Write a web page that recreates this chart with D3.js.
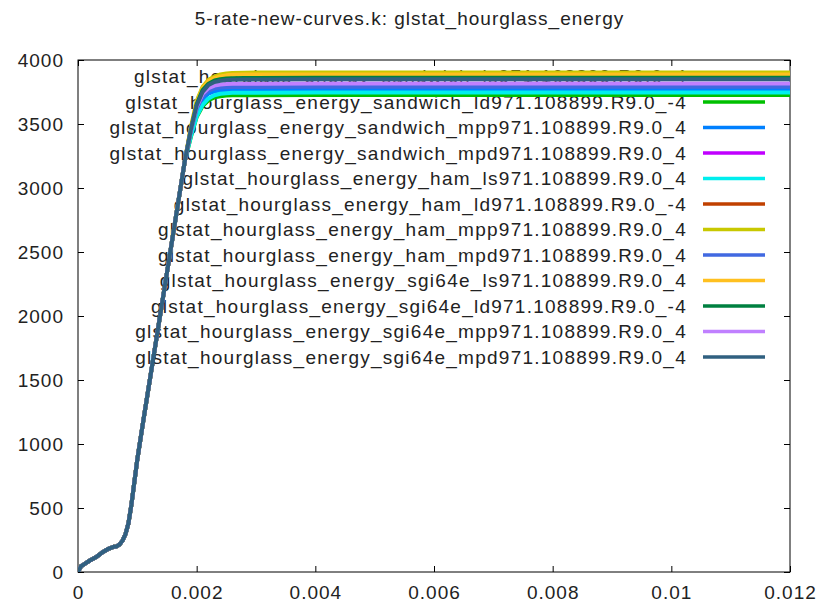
<!DOCTYPE html>
<html><head><meta charset="utf-8">
<script src="https://cdn.jsdelivr.net/npm/d3@7/dist/d3.min.js"></script>
<style>
html,body{margin:0;padding:0;background:#fff;}
text{font-family:"Liberation Sans",Arial,sans-serif;fill:#222;}
</style></head>
<body><svg id="c" width="819" height="608"></svg>
<script>
const title = "5-rate-new-curves.k: glstat_hourglass_energy";
const seriesNames = [
  "glstat_hourglass_energy_sandwich_ls971.108899.R9.0_4",
  "glstat_hourglass_energy_sandwich_ld971.108899.R9.0_-4",
  "glstat_hourglass_energy_sandwich_mpp971.108899.R9.0_4",
  "glstat_hourglass_energy_sandwich_mpd971.108899.R9.0_4",
  "glstat_hourglass_energy_ham_ls971.108899.R9.0_4",
  "glstat_hourglass_energy_ham_ld971.108899.R9.0_-4",
  "glstat_hourglass_energy_ham_mpp971.108899.R9.0_4",
  "glstat_hourglass_energy_ham_mpd971.108899.R9.0_4",
  "glstat_hourglass_energy_sgi64e_ls971.108899.R9.0_4",
  "glstat_hourglass_energy_sgi64e_ld971.108899.R9.0_-4",
  "glstat_hourglass_energy_sgi64e_mpp971.108899.R9.0_4",
  "glstat_hourglass_energy_sgi64e_mpd971.108899.R9.0_4"
];
const colors = ["#ff0000","#00c000","#0080ff","#c000ff","#00eeee","#c04000","#c8c800","#4169e1","#ffc020","#008040","#c080ff","#306080"];
const xTicks = [0,0.002,0.004,0.006,0.008,0.01,0.012];
const xTickLabels = ["0","0.002","0.004","0.006","0.008","0.01","0.012"];
const yTicks = [0,500,1000,1500,2000,2500,3000,3500,4000];

// shared rising part (time in s)
const rampTimes = [0,0.00005,0.0001,0.0002,0.0003,0.0004,0.0005,0.0006,0.00065,0.0007,0.00075,0.0008,0.00085,0.0009,0.001,0.0011,0.0012,0.0013,0.0014,0.0015,0.0016,0.0017,0.0018];
const rampValues = [0,45,60,90,115,150,178,197,200,215,245,295,380,525,880,1180,1470,1760,2050,2340,2630,2920,3210];
// per-series knee and plateau
const tailTimes = [0.0019,0.002,0.0021,0.0022,0.0023,0.0024,0.0025,0.0026,0.0028,0.003,0.004,0.006,0.008,0.01,0.012];
const tails = [
  [3435,3615,3710,3752,3770,3776,3779,3780,3780,3781,3781,3781,3781,3781,3781],
  [3395,3555,3640,3685,3708,3717,3722,3724,3725,3725,3726,3726,3726,3726,3726],
  [3430,3605,3695,3738,3755,3761,3764,3765,3765,3766,3766,3766,3766,3766,3766],
  [3440,3625,3725,3770,3788,3795,3798,3800,3800,3801,3801,3801,3801,3801,3801],
  [3400,3560,3650,3700,3725,3736,3741,3744,3745,3745,3746,3746,3746,3746,3746],
  [3450,3650,3760,3810,3835,3845,3850,3853,3855,3855,3856,3856,3856,3856,3856],
  [3470,3680,3790,3845,3872,3887,3895,3899,3900,3902,3903,3903,3903,3903,3903],
  [3440,3620,3715,3760,3778,3785,3788,3790,3790,3790,3791,3791,3791,3791,3791],
  [3465,3670,3780,3835,3860,3872,3880,3884,3886,3887,3887,3887,3887,3887,3887],
  [3455,3655,3765,3815,3840,3850,3856,3858,3860,3860,3861,3861,3861,3861,3861],
  [3445,3635,3735,3780,3800,3808,3812,3814,3815,3815,3816,3816,3816,3816,3816],
  [3450,3645,3750,3805,3828,3838,3843,3846,3848,3848,3849,3849,3849,3849,3849]
];

const svg = d3.select("#c");
const L=78,R=790,T=60,B=572;
const x = d3.scaleLinear().domain([0,0.012]).range([L,R]);
const y = d3.scaleLinear().domain([0,4000]).range([B,T]);
const FS = 19;

svg.append("text").attr("x",409.5).attr("y",25).attr("text-anchor","middle")
  .style("font-size",FS+"px").style("letter-spacing","1px").text(title);

// axes with mirrored inward ticks
const ax = svg.append("g");
ax.append("g").attr("transform",`translate(0,${B})`)
  .call(d3.axisBottom(x).tickValues(xTicks).tickFormat((d,i)=>xTickLabels[i]).tickSizeInner(-6).tickSizeOuter(0).tickPadding(14));
ax.append("g").attr("transform",`translate(0,${T})`)
  .call(d3.axisTop(x).tickValues(xTicks).tickFormat("").tickSizeInner(-6).tickSizeOuter(0));
ax.append("g").attr("transform",`translate(${L},0)`)
  .call(d3.axisLeft(y).tickValues(yTicks).tickFormat(d3.format("d")).tickSizeInner(-6).tickSizeOuter(0).tickPadding(14));
ax.append("g").attr("transform",`translate(${R},0)`)
  .call(d3.axisRight(y).tickValues(yTicks).tickFormat("").tickSizeInner(-6).tickSizeOuter(0));
ax.selectAll(".domain").remove();
ax.selectAll("line").attr("stroke","#000");
ax.selectAll("text").style("font-size",FS+"px").style("letter-spacing","1px").attr("fill","#222").attr("font-family",null);
svg.append("rect").attr("x",L).attr("y",T).attr("width",R-L).attr("height",B-T)
  .attr("fill","none").attr("stroke","#000").attr("stroke-width",1);

svg.append("clipPath").attr("id","clip").append("rect").attr("x",L).attr("y",T).attr("width",R-L).attr("height",B-T);
const line = d3.line().x(d=>x(d[0])).y(d=>y(d[1]));
const times = rampTimes.concat(tailTimes);
const keyTop = 76.5, keyStep = 25.5;
seriesNames.forEach((name,i)=>{
  const ky = keyTop + i*keyStep;
  svg.append("text").attr("x",687).attr("y",ky).attr("dy","0.35em").attr("text-anchor","end")
    .style("font-size",FS+"px").style("letter-spacing","1.25px").text(name);
  svg.append("line").attr("x1",703).attr("x2",765).attr("y1",ky).attr("y2",ky)
    .attr("stroke",colors[i]).attr("stroke-width",3.5);
  const vals = rampValues.concat(tails[i]);
  svg.append("path").datum(times.map((t,j)=>[t,vals[j]])).attr("d",line)
    .attr("fill","none").attr("stroke",colors[i]).attr("stroke-width",4)
    .attr("stroke-linejoin","round").attr("clip-path","url(#clip)");
});
</script></body></html>
